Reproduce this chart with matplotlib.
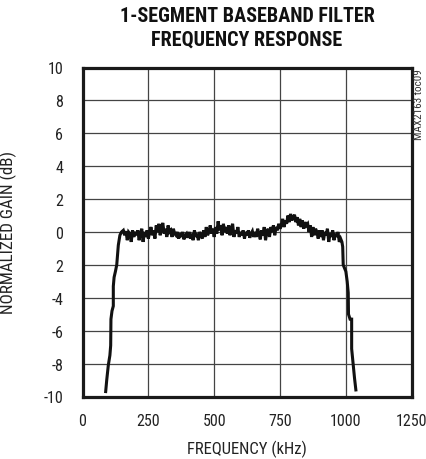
import numpy as np
import matplotlib
matplotlib.use("Agg")
import matplotlib.pyplot as plt

# ---------------- data ----------------
title = "1-SEGMENT BASEBAND FILTER\nFREQUENCY RESPONSE"
xlabel = "FREQUENCY (kHz)"
ylabel = "NORMALIZED GAIN (dB)"
side_note = "MAX2163 toc09"

x_ticks = [0, 250, 500, 750, 1000, 1250]
y_ticks = [10, 8, 6, 4, 2, 0, -2, -4, -6, -8, -10]
y_tick_labels = ["10", "8", "6", "4", "2", "0", "2", "-4", "-6", "-8", "-10"]

left_freq = [88, 92, 98, 104, 107, 108, 112, 117, 117, 120, 125, 130, 136, 142, 148]
left_gain = [-9.7, -9.0, -8.1, -7.5, -6.9, -5.3, -4.8, -4.5, -3.3, -2.75, -2.4, -2.0, -0.8, -0.2, 0.0]

# passband, sampled every 5 kHz from 155 to 975 kHz
pass_gain = [
    0.1, -0.2, 0.05, -0.5, 0.0, -0.1, -0.6, 0.1, -0.3, 0.0,
    -0.2, 0.1, -0.5, -0.1, 0.2, -0.6, 0.0, -0.3, 0.1, -0.4,
    0.0, 0.3, -0.2, 0.1, -0.4, 0.4, 0.0, 0.5, -0.2, 0.3,
    0.55, -0.1, 0.2, -0.3, 0.4, 0.0, 0.1, -0.3, 0.2, -0.1,
    -0.2, 0.0, -0.4, -0.1, -0.3, 0.0, -0.45, -0.2, -0.1, -0.35,
    0.0, -0.4, -0.1, -0.5, 0.1, -0.3, -0.1, -0.5, 0.0, -0.2,
    -0.4, 0.1, -0.3, 0.3, -0.2, 0.0, 0.4, -0.1, 0.2, -0.3,
    0.3, -0.1, 0.65, 0.1, 0.4, -0.2, 0.5, 0.0, 0.3, -0.1,
    0.4, -0.2, 0.2, 0.5, -0.3, 0.1, -0.1, 0.3, -0.3, 0.0,
    -0.2, 0.1, -0.4, 0.0, -0.2, 0.1, -0.35, -0.1, 0.05, -0.3,
    0.0, -0.3, 0.2, -0.1, -0.45, 0.1, -0.2, 0.3, -0.5, 0.0,
    0.2, -0.3, 0.3, 0.0, 0.4, -0.2, 0.3, 0.1, 0.5, 0.2,
    0.4, 0.8, 0.3, 0.7, 0.5, 1.0, 0.6, 1.1, 0.7, 0.9,
    1.05, 0.6, 0.9, 0.4, 0.8, 0.3, 0.7, 0.2, 0.6, 0.4,
    0.5, 0.0, 0.4, -0.3, 0.3, -0.2, 0.2, 0.0, -0.4, 0.1,
    -0.3, 0.1, -0.5, 0.0, -0.2, 0.2, -0.6, -0.1, -0.3, 0.1,
    -0.5, -0.1, -0.3, 0.0, -0.6,
]
pass_start, pass_stop = 155, 975

right_freq = [980, 985, 988, 990, 995, 1000, 1005, 1009, 1010, 1016, 1022, 1022, 1025, 1028, 1033, 1038]
right_gain = [-0.4, -0.6, -0.9, -2.0, -2.2, -2.4, -3.0, -3.7, -5.0, -5.3, -5.3, -7.1, -7.6, -8.1, -8.9, -9.6]

# ---------------- plot ----------------
fonts = ["Roboto Condensed", "Archivo Narrow", "DejaVu Sans"]
plt.rcParams["font.family"] = fonts

fig = plt.figure(figsize=(4.26, 4.60), dpi=100)
ax = fig.add_axes([82.5 / 426, 1 - 397.5 / 460, 329.2 / 426, 329.0 / 460])

pass_freq = np.linspace(pass_start, pass_stop, len(pass_gain))
freq = np.concatenate([left_freq, pass_freq, right_freq])
gain = np.concatenate([left_gain, pass_gain, right_gain])

ax.plot(freq, gain, color="#111111", lw=2.2, solid_joinstyle="miter", zorder=3)

ax.set_xlim(0, 1250)
ax.set_ylim(-10, 10)
ax.set_xticks(x_ticks)
ax.set_xticklabels([str(v) for v in x_ticks])
ax.set_yticks(y_ticks)
ax.set_yticklabels(y_tick_labels)
ax.tick_params(length=0, labelsize=11.5, pad=14, colors="#222222")
ax.tick_params(axis="x", pad=12)

ax.grid(True, color="#444444", lw=0.9)
ax.set_axisbelow(True)
for s in ax.spines.values():
    s.set_linewidth(2.3)
    s.set_color("#1a1a1a")

ax.set_xlabel(xlabel, fontsize=12, color="#222222", labelpad=8)
fig.text(8 / 426, 1 - 233 / 460, ylabel, rotation=90, ha="center", va="center",
         fontsize=12.3, color="#222222")

fig.text(247 / 426, 1 - 28 / 460, title, ha="center", va="center",
         fontsize=14.5, fontweight="bold", linespacing=1.3, color="#111111")

fig.text(418.5 / 426, 1 - 69 / 460, side_note, rotation=90, ha="center", va="top",
         fontsize=8, color="#333333")

fig.savefig("out.png", dpi=100)
